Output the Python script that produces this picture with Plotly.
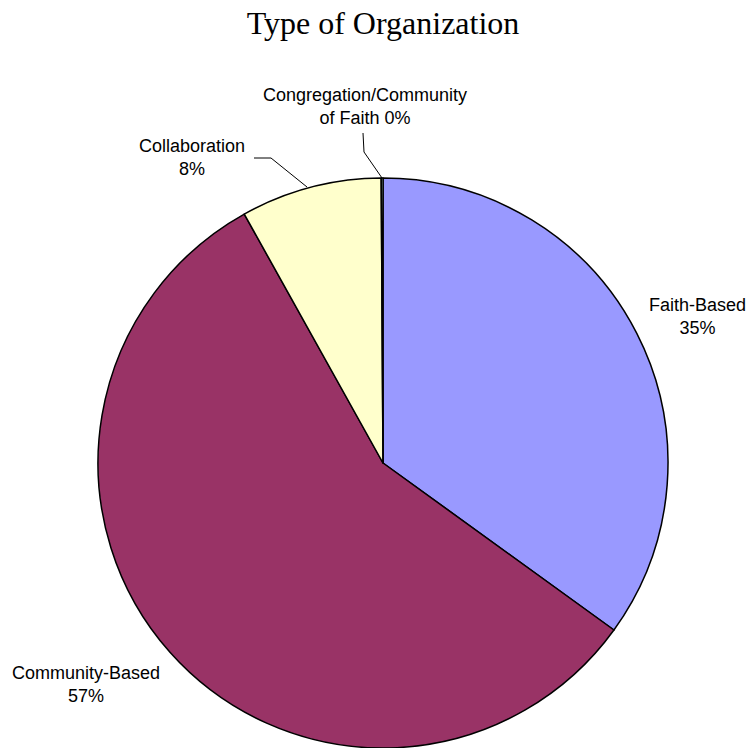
import numpy as np
import plotly.graph_objects as go

W, H = 748, 748

labels = ["Faith-Based", "Community-Based", "Collaboration", "Congregation/Community of Faith"]
values = [35.0, 57.0, 8.0, 0.1]
colors = ["#9999FF", "#993366", "#FFFFCC", "#CCFFFF"]
# how each label wraps on the chart
label_lines = [
    ["Faith-Based"],
    ["Community-Based"],
    ["Collaboration"],
    ["Congregation/Community", "of Faith"],
]

pct = np.round(np.array(values) / np.sum(values) * 100).astype(int)


def px(x):
    return x / W


def py(y):
    return 1 - y / H


def label_text(i):
    lines = list(label_lines[i])
    if len(lines) > 1:
        lines[-1] = f"{lines[-1]} {pct[i]}%"
    else:
        lines.append(f"{pct[i]}%")
    return "<br>".join(lines)


fig = go.Figure(
    go.Pie(
        labels=labels,
        values=values,
        sort=False,
        direction="clockwise",
        rotation=0,
        textinfo="none",
        hoverinfo="label+percent",
        marker=dict(colors=colors, line=dict(color="black", width=1.5)),
        domain=dict(x=[px(96), px(670)], y=[0, py(178)]),
        showlegend=False,
    )
)

# label anchor positions (pixels)
label_pos = {0: (697, 316), 1: (86, 684), 2: (192, 158), 3: (365, 106)}
for i, (x, y) in label_pos.items():
    fig.add_annotation(
        x=px(x), y=py(y), xref="paper", yref="paper",
        xanchor="center", yanchor="middle",
        text=label_text(i), showarrow=False,
        font=dict(family="Liberation Sans, Arial", size=18, color="black"),
        align="center",
    )

leaders = [
    [(363, 133), (364, 152), (382, 178)],
    [(254, 158), (271, 158), (307, 187)],
]
for pts in leaders:
    path = "M " + " L ".join(f"{px(x)},{py(y)}" for x, y in pts)
    fig.add_shape(type="path", path=path, xref="paper", yref="paper",
                  line=dict(color="black", width=1))

fig.update_layout(
    width=W, height=H,
    margin=dict(l=0, r=0, t=0, b=0),
    paper_bgcolor="white",
    plot_bgcolor="white",
    title=dict(
        text="Type of Organization",
        x=px(383), xanchor="center", y=py(23), yanchor="middle",
        font=dict(family="Liberation Serif, Times New Roman", size=32, color="black"),
    ),
)

fig.write_html(
    "out.html",
    config={"displayModeBar": False},
    post_script="document.body.style.margin='0';document.body.style.overflow='hidden';",
)
